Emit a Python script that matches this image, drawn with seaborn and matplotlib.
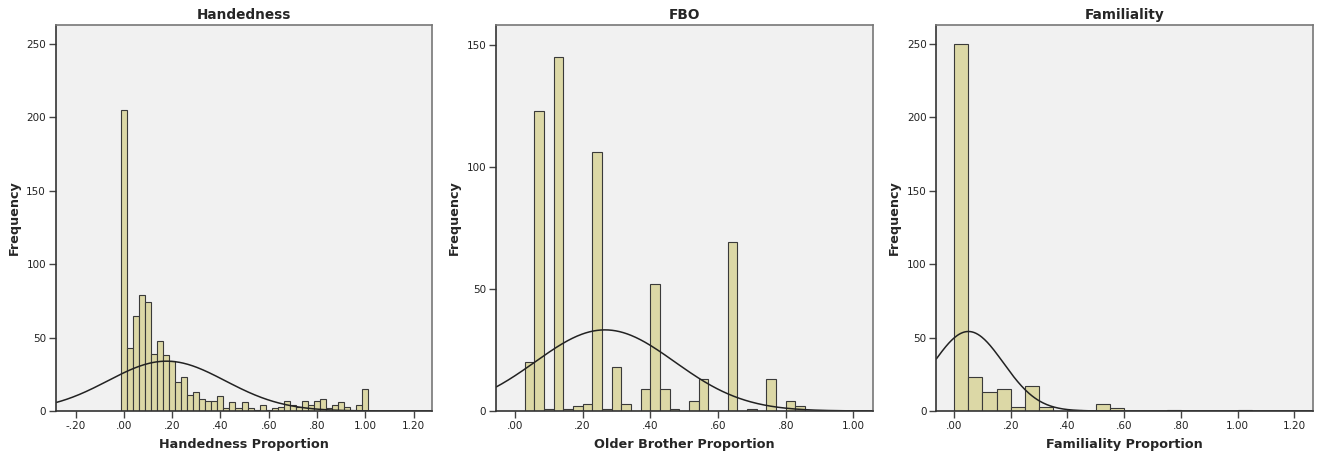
import numpy as np
import pandas as pd
import matplotlib
matplotlib.use("Agg")
import matplotlib.pyplot as plt
import seaborn as sns

# bin counts
hand_counts = [205, 43, 65, 79, 74, 39, 48, 38, 34, 20, 23, 11, 13, 8, 7, 7, 10, 2, 6, 2, 6,
               2, 1, 4, 1, 2, 3, 7, 4, 3, 7, 4, 7, 8, 2, 4, 6, 3, 0, 4, 15]
fbo_counts = [20, 123, 1, 145, 1, 2, 3, 106, 1, 18, 3, 0, 9, 52, 9, 1, 0, 4, 13, 0, 0,
              69, 0, 1, 0, 13, 0, 4, 2]
fam_counts = [250, 23, 13, 15, 3, 17, 3, 0, 1, 0, 5, 2, 0, 0, 0, 1, 0, 0, 0, 0, 1]

# bin edges
hand_edges = (np.arange(42) - 0.5) * 0.025
fbo_edges = np.arange(1, 31) / 35
fam_edges = np.arange(22) * 0.05

# normal curve parameters (mean, sd)
hand_curve = (0.177, 0.243)
fbo_curve = (0.266, 0.206)
fam_curve = (0.051, 0.123)

titles = ["Handedness", "FBO", "Familiality"]
xlabels = ["Handedness Proportion", "Older Brother Proportion", "Familiality Proportion"]
xticks = [
    [-0.2, 0.0, 0.2, 0.4, 0.6, 0.8, 1.0, 1.2],
    [0.0, 0.2, 0.4, 0.6, 0.8, 1.0],
    [0.0, 0.2, 0.4, 0.6, 0.8, 1.0, 1.2],
]
yticks = [[0, 50, 100, 150, 200, 250], [0, 50, 100, 150], [0, 50, 100, 150, 200, 250]]
xlims = [(-0.282, 1.278), (-0.056, 1.057), (-0.062, 1.266)]
ylims = [(0, 263), (0, 158), (0, 263)]


def fmt(v):
    s = f"{v:.2f}"
    return s.replace("0.", ".", 1) if abs(v) < 1 else s


sns.set_style("white")
plt.rcParams["font.family"] = ["DejaVu Sans"]

fig = plt.figure(figsize=(13.17, 4.57), dpi=100)
lefts = [0.0423, 0.3766, 0.711]
panels = [
    (hand_counts, hand_edges, hand_curve),
    (fbo_counts, fbo_edges, fbo_curve),
    (fam_counts, fam_edges, fam_curve),
]

for i, (counts, edges, (mu, sd)) in enumerate(panels):
    ax = fig.add_axes([lefts[i], 0.1007, 0.286, 0.8446])
    ax.set_facecolor("#f1f1f1")
    centers = (edges[:-1] + edges[1:]) / 2
    df = pd.DataFrame({"x": centers, "n": counts})
    sns.histplot(data=df, x="x", weights="n", bins=edges.tolist(), ax=ax,
                 color="#dcd8a6", edgecolor="#3a3a3a", linewidth=0.8, alpha=1)

    n = sum(counts)
    bw = edges[1] - edges[0]
    xs = np.linspace(xlims[i][0], xlims[i][1], 400)
    ys = n * bw * np.exp(-0.5 * ((xs - mu) / sd) ** 2) / (sd * np.sqrt(2 * np.pi))
    ax.plot(xs, ys, color="#222222", lw=1.1)

    ax.set_xlim(*xlims[i])
    ax.set_ylim(*ylims[i])
    ax.set_xticks(xticks[i])
    ax.set_xticklabels([fmt(v) for v in xticks[i]])
    ax.set_yticks(yticks[i])
    ax.tick_params(axis="both", bottom=True, left=True, direction="out", length=5,
                   width=1, color="#444444", labelsize=7.5, labelcolor="#222222", pad=2)
    for side in ["left", "bottom"]:
        ax.spines[side].set_color("#333333")
        ax.spines[side].set_linewidth(1.2)
    for side in ["top", "right"]:
        ax.spines[side].set_color("#777777")
        ax.spines[side].set_linewidth(1.2)
    ax.set_title(titles[i], fontsize=9.8, fontweight="bold", pad=4)
    ax.set_xlabel(xlabels[i], fontsize=9.2, fontweight="bold", labelpad=5)
    ax.set_ylabel("Frequency", fontsize=9.2, fontweight="bold", labelpad=4)

fig.savefig("out.png", dpi=100)
